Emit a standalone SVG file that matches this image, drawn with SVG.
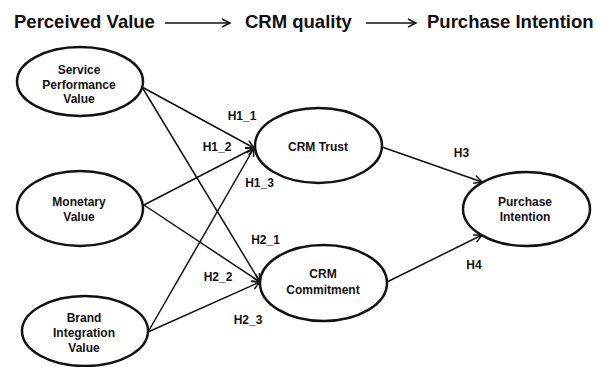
<svg xmlns="http://www.w3.org/2000/svg" width="607" height="367" viewBox="0 0 607 367">
<style>
text{font-family:"Liberation Sans",Arial,sans-serif;font-weight:bold;fill:#111;}
.title{font-size:18.5px;}
.nd{font-size:12px;text-anchor:middle;}
.lb{font-size:12px;text-anchor:middle;}
.ell{fill:#fff;stroke:#111;stroke-width:2.5;}
.con{stroke:#111;stroke-width:1.5;fill:none;marker-end:url(#arr);}
</style>
<defs>
<marker id="arr" markerUnits="userSpaceOnUse" markerWidth="12" markerHeight="12" refX="9" refY="5" orient="auto">
<path d="M1,1 L9,5 L1,9" fill="none" stroke="#111" stroke-width="1.5"/>
</marker>
</defs>
<rect width="607" height="367" fill="#fff"/>
<g id="title">
<text class="title" x="14" y="28">Perceived Value</text>
<text class="title" x="245" y="28">CRM quality</text>
<text class="title" x="427" y="28">Purchase Intention</text>
<line class="con" x1="165" y1="23" x2="230" y2="23"/>
<line class="con" x1="366" y1="23" x2="416" y2="23"/>
</g>
<g id="connectors">
<line class="con" x1="142" y1="87" x2="254" y2="148"/>
<line class="con" x1="144" y1="205" x2="254" y2="148"/>
<line class="con" x1="148" y1="332" x2="254" y2="148"/>
<line class="con" x1="142" y1="87" x2="260" y2="282"/>
<line class="con" x1="144" y1="205" x2="260" y2="282"/>
<line class="con" x1="148" y1="332" x2="260" y2="282"/>
<line class="con" x1="382" y1="147" x2="482" y2="182"/>
<line class="con" x1="387" y1="282" x2="482" y2="235"/>
</g>
<g id="labels">
<text class="lb" x="242" y="120">H1_1</text>
<text class="lb" x="217" y="151">H1_2</text>
<text class="lb" x="259.5" y="187">H1_3</text>
<text class="lb" x="265.5" y="244">H2_1</text>
<text class="lb" x="218" y="281">H2_2</text>
<text class="lb" x="248" y="324">H2_3</text>
<text class="lb" x="461.5" y="157">H3</text>
<text class="lb" x="474" y="269">H4</text>
</g>
<g id="service">
<ellipse class="ell" cx="80" cy="81.5" rx="63" ry="34.5"/>
<text class="nd" x="79" y="74">Service</text>
<text class="nd" x="79" y="89">Performance</text>
<text class="nd" x="79" y="103">Value</text>
</g>
<g id="monetary">
<ellipse class="ell" cx="80" cy="208.5" rx="63" ry="37.5"/>
<text class="nd" x="79" y="206">Monetary</text>
<text class="nd" x="79" y="221">Value</text>
</g>
<g id="brand">
<ellipse class="ell" cx="85" cy="331" rx="63" ry="35"/>
<text class="nd" x="84" y="322">Brand</text>
<text class="nd" x="84" y="337">Integration</text>
<text class="nd" x="84" y="352">Value</text>
</g>
<g id="trust">
<ellipse class="ell" cx="318.5" cy="145.5" rx="63.5" ry="37.5"/>
<text class="nd" x="318" y="151">CRM Trust</text>
</g>
<g id="commitment">
<ellipse class="ell" cx="323.5" cy="283" rx="63.5" ry="38"/>
<text class="nd" x="323" y="278">CRM</text>
<text class="nd" x="323" y="294">Commitment</text>
</g>
<g id="purchase">
<ellipse class="ell" cx="526.5" cy="209" rx="63.5" ry="37"/>
<text class="nd" x="525" y="206">Purchase</text>
<text class="nd" x="525" y="221">Intention</text>
</g>
</svg>
